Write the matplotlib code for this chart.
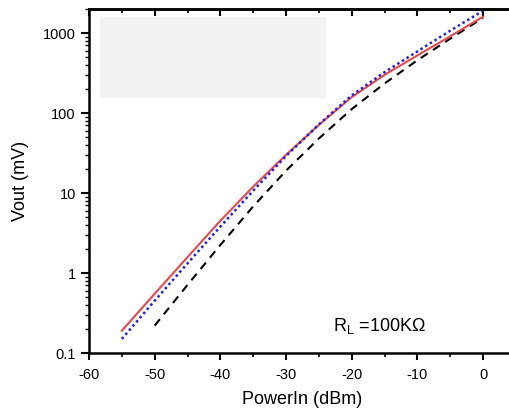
import numpy as np
from matplotlib import pyplot as plt
from matplotlib.patches import Rectangle
from matplotlib.ticker import MultipleLocator, LogLocator, FuncFormatter

plt.rcParams['font.family'] = ['Liberation Sans', 'DejaVu Sans']
plt.rcParams['mathtext.fontset'] = 'custom'
plt.rcParams['mathtext.rm'] = 'Liberation Sans'
plt.rcParams['axes.unicode_minus'] = False

# values (dBm -> mV)
power_red = [-55, -50, -45, -40, -35, -30, -25, -20, -15, -10, -5, 0]
vout_red = [0.19, 0.55, 1.58, 4.5, 12, 30, 71, 158, 300, 525, 910, 1600]

power_blue = [-55, -50, -45, -40, -35, -30, -25, -20, -15, -10, -5, 0]
vout_blue = [0.15, 0.45, 1.32, 3.8, 10.7, 29, 72, 166, 324, 590, 1070, 1900]

power_black = [-50, -45, -40, -35, -30, -25, -20, -15, -10, -5, 0]
vout_black = [0.22, 0.71, 2.24, 6.8, 19, 48, 112, 234, 457, 850, 1550]

fig = plt.figure(figsize=(5.1, 4.12), dpi=100)
ax = fig.add_axes([0.1745, 0.1432, 0.837, 0.835])

# blank legend box
ax.add_patch(Rectangle((-58.3, 154), 34.4, 1585 - 154, facecolor='#f2f2f2',
                       edgecolor='none', zorder=0))

ax.plot(power_black, vout_black, color='black', linestyle=(0, (4, 3)), lw=1.5)
ax.plot(power_red, vout_red, color='#e8484c', linestyle='-', lw=1.5)
ax.plot(power_blue, vout_blue, color='#1f1fdc', linestyle=(0, (1, 1.2)), lw=1.8)

ax.set_yscale('log')
ax.set_xlim(-60, 5)
ax.set_ylim(0.1, 2000)

ax.xaxis.set_major_locator(MultipleLocator(10))
ax.xaxis.set_minor_locator(MultipleLocator(5))
ax.yaxis.set_major_locator(LogLocator(base=10))
ax.yaxis.set_minor_locator(LogLocator(base=10, subs=np.arange(2, 10)))
ax.yaxis.set_major_formatter(FuncFormatter(lambda v, p: '{:g}'.format(v)))

ax.tick_params(which='both', top=False, right=False, labelsize=10.5)
ax.tick_params(axis='x', which='both', direction='out', pad=6)
ax.tick_params(axis='x', which='major', length=5, width=1.5)
ax.tick_params(axis='x', which='minor', length=3, width=1.2)
ax.tick_params(axis='y', which='major', direction='out', length=6, width=1.5)
ax.tick_params(axis='y', which='minor', direction='out', length=3, width=1)

# top axis: ticks pointing inward, no labels
top = ax.secondary_xaxis('top')
top.xaxis.set_major_locator(MultipleLocator(10))
top.xaxis.set_minor_locator(MultipleLocator(5))
top.tick_params(which='both', direction='in', labeltop=False)
top.tick_params(which='major', length=5, width=1.5)
top.tick_params(which='minor', length=3, width=1.2)
top.spines['top'].set_linewidth(1.8)

for s in ax.spines.values():
    s.set_linewidth(1.8)

ax.set_xlabel('PowerIn (dBm)', fontsize=13, labelpad=6)
ax.set_ylabel('Vout (mV)', fontsize=13, labelpad=10)

ax.text(-22.8, 0.22, r'R$_{\mathregular{L}}$ =100K$\mathregular{\Omega}$', fontsize=13,
        va='center', ha='left')

fig.savefig('out.png', dpi=100)
